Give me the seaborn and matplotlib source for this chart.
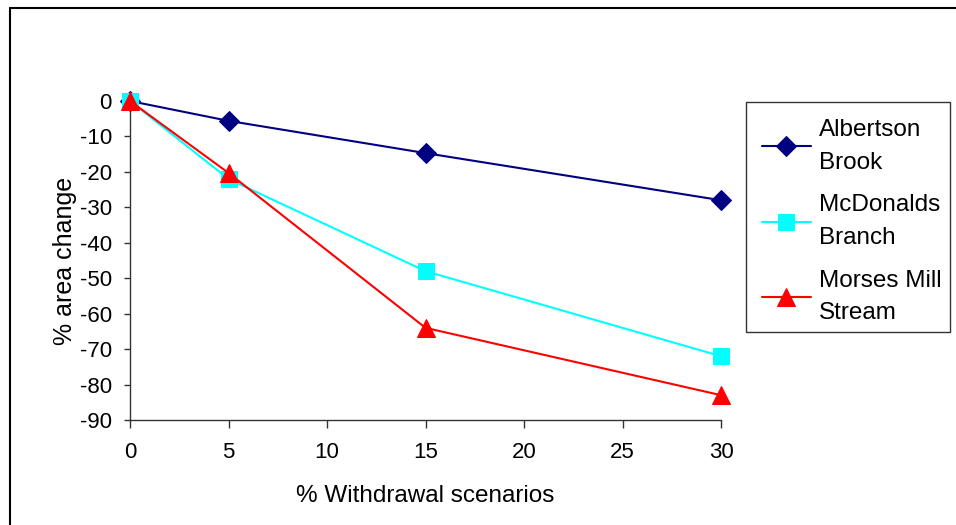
import matplotlib
matplotlib.use("Agg")
import matplotlib.pyplot as plt
from matplotlib.lines import Line2D
from matplotlib.patches import Rectangle
import pandas as pd
import seaborn as sns

withdrawal = [0, 5, 15, 30]
albertson = [0, -5.6, -14.7, -28]
mcdonalds = [0, -22, -48, -72]
morses = [0, -20.3, -64, -83]
series_names = ["Albertson\nBrook", "McDonalds\nBranch", "Morses Mill\nStream"]

df = pd.DataFrame({
    "x": withdrawal * 3,
    "y": albertson + mcdonalds + morses,
    "site": [series_names[0]] * 4 + [series_names[1]] * 4 + [series_names[2]] * 4,
})

sns.set_theme(style="white")
plt.rcParams["font.family"] = ["Liberation Sans", "DejaVu Sans"]
plt.rcParams["axes.unicode_minus"] = False
plt.rcParams["text.color"] = "black"
plt.rcParams["axes.labelcolor"] = "black"
plt.rcParams["xtick.color"] = "black"
plt.rcParams["ytick.color"] = "black"

W, H = 956, 525
fig = plt.figure(figsize=(W / 100, H / 100), dpi=100)
ax = fig.add_axes([130 / W, 1 - 420 / H, (721 - 130) / W, (420 - 101) / H])

palette = {series_names[0]: "#000080", series_names[1]: "#00FFFF", series_names[2]: "#FF0000"}
markers = {series_names[0]: "D", series_names[1]: "s", series_names[2]: "^"}
sizes = {series_names[0]: 10, series_names[1]: 11, series_names[2]: 13}

for name in series_names:
    sub = df[df["site"] == name]
    sns.lineplot(data=sub, x="x", y="y", ax=ax, color=palette[name], marker=markers[name],
                 markersize=sizes[name], markeredgecolor=palette[name], linewidth=1.5,
                 label=name, clip_on=False, zorder=3)

ax.set_xlim(0, 30)
ax.set_ylim(-90, 0)
ax.set_xticks([0, 5, 10, 15, 20, 25, 30])
ax.set_yticks(range(-90, 1, 10))
for s in ["top", "right"]:
    ax.spines[s].set_visible(False)
for s in ["left", "bottom"]:
    ax.spines[s].set_color("#333333")
    ax.spines[s].set_linewidth(1.0)
ax.tick_params(axis="x", direction="out", length=6, width=1, color="#333333",
               labelsize=16, bottom=True, pad=10)
ax.tick_params(axis="y", direction="out", length=4, width=1, color="#333333",
               labelsize=16, left=True, pad=9)
ax.set_xlabel("% Withdrawal scenarios", fontsize=17.5, labelpad=16)
ax.set_ylabel("% area change", fontsize=18, labelpad=2)

# legend entries without their own frame; the box is drawn separately
leg = ax.legend(loc="upper left", bbox_to_anchor=(762 / W, 1 - 119 / H),
                bbox_transform=fig.transFigure, borderaxespad=0, borderpad=0,
                fontsize=17.5, frameon=False, handlelength=2.0,
                labelspacing=0.86, handletextpad=0.35)
for t in leg.get_texts():
    t.set_linespacing(1.62)
fig.add_artist(Rectangle((746 / W, 1 - 332 / H), (950 - 746) / W, (332 - 102) / H,
                         transform=fig.transFigure, fill=False,
                         edgecolor="#333333", linewidth=1.0))

# outer chart border along top and left edges
fig.add_artist(Line2D([9.5 / W, 1], [1 - 7.5 / H, 1 - 7.5 / H],
                      transform=fig.transFigure, color="black", linewidth=1.5))
fig.add_artist(Line2D([9.5 / W, 9.5 / W], [0, 1 - 7.5 / H],
                      transform=fig.transFigure, color="black", linewidth=1.5))

fig.savefig("out.png", dpi=100)
